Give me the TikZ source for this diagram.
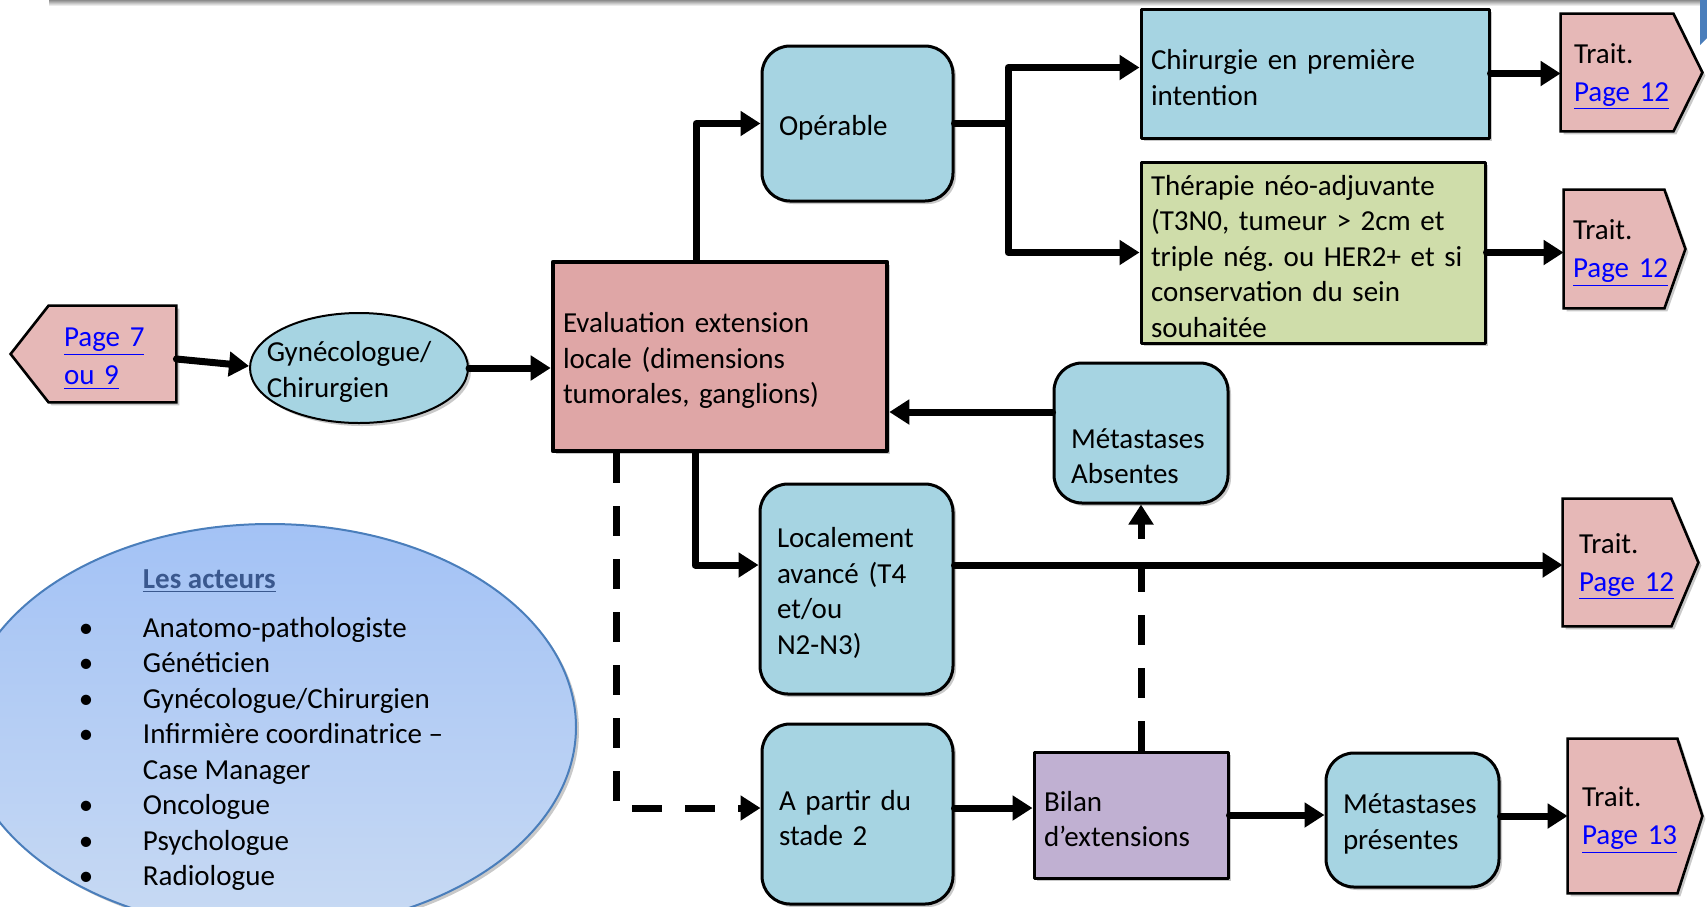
\documentclass[tikz,border=0pt]{standalone}
\usepackage{fontspec}
\setmainfont{Carlito}
\usetikzlibrary{positioning,calc,arrows.meta,shadows,backgrounds,shapes.geometric}

\definecolor{bleuclair}{RGB}{166,212,226}
\definecolor{roseeval}{RGB}{223,166,166}
\definecolor{rosetrait}{RGB}{230,184,183}
\definecolor{vertthera}{RGB}{207,221,170}
\definecolor{violetbilan}{RGB}{192,176,210}
\definecolor{bleuhaut}{RGB}{163,194,245}
\definecolor{bleubas}{RGB}{200,218,243}
\definecolor{bordbleu}{RGB}{74,126,187}
\definecolor{titrebleu}{RGB}{58,88,142}
\definecolor{lienbleu}{RGB}{0,0,255}

\newcommand{\lien}[1]{\textcolor{lienbleu}{\underline{#1}}}
\newcommand{\puce}{\makebox[32pt][l]{\textbullet}}
\frenchspacing

\begin{document}
\begin{tikzpicture}[x=0.5pt,y=-0.5pt,line cap=round,line join=round,
    font=\fontsize{14.5}{17.75}\selectfont,
    ombre/.style={drop shadow={shadow xshift=1.5pt,shadow yshift=-1.5pt,opacity=.3,fill=black!70}},
    carre/.style={draw,line width=1.5pt,align=left,inner xsep=5pt,inner ysep=0pt,ombre,
      execute at begin node=\rule{0pt}{14pt}},
    arrondi/.style={draw,line width=1.5pt,rounded corners=14pt,fill=bleuclair,align=left,inner xsep=8.5pt,inner ysep=0pt,ombre,
      execute at begin node=\rule{0pt}{14pt}},
    pagebox/.style={align=left,inner ysep=0pt,font=\fontsize{14.5}{19}\selectfont,
      execute at begin node=\rule{0pt}{14pt}},
    forme/.style={draw,line width=1.3pt,fill=rosetrait,ombre},
    fleche/.style={line width=3.5pt,-{Triangle[length=10pt,width=12pt]}},
    tirets/.style={line cap=butt,dash pattern=on 15pt off 11.5pt}]

  \useasboundingbox (0,0) rectangle (1707,906);
  \clip (0,0) rectangle (1707,906);

  % bord du cadre au-dessus
  \shade[top color=black!45,bottom color=white] (49,0) rectangle (1700,6);
  \fill[bordbleu] (1700,0) -- (1707,0) -- (1707,38) -- (1700,45) -- cycle;

  % les acteurs
  \node[ellipse,draw=bordbleu,line width=1pt,top color=bleuhaut,bottom color=bleubas,
        minimum width=306pt,minimum height=203pt,inner sep=0pt,ombre] (acteurs) at (270,727) {};
  \node[align=left,inner sep=0pt] (listeact) at ($(acteurs.center)+(-9,3)$) {%
    \hspace*{32pt}\textcolor{titrebleu}{\bfseries\underline{Les acteurs}}\\[6.75pt]
    \puce Anatomo-pathologiste\\
    \puce Généticien\\
    \puce Gynécologue/Chirurgien\\
    \puce Infirmière coordinatrice –\\
    \hspace*{32pt}Case Manager\\
    \puce Oncologue\\
    \puce Psychologue\\
    \puce Radiologue};

  % boites
  \node[pagebox,inner xsep=7.5pt,text width=48.5pt,minimum height=48pt] (p7) at (112.5,354) {\lien{Page~7}\\\lien{ou~9}};
  \node[ellipse,draw,line width=1pt,fill=bleuclair,minimum width=109pt,minimum height=55pt,
        inner xsep=-9pt,inner ysep=0pt,align=left,ombre] (gyn) at (359,368) {\rule{0pt}{14pt}Gynécologue/\hspace*{10pt}\\Chirurgien};
  \node[carre,fill=roseeval,line width=2.3pt,text width=157pt,minimum height=94.5pt] (eval) at (720,356.5)
    {Evaluation extension\\locale (dimensions\\tumorales, ganglions)};
  \node[arrondi,text width=78.5pt,minimum height=77.5pt] (oper) at (857.5,123.5) {Opérable};
  \node[carre,fill=bleuclair,text width=164pt,minimum height=64.5pt] (chir) at (1315,73.5)
    {Chirurgie en première\\intention};
  \node[carre,fill=vertthera,text width=162pt,minimum height=90.5pt] (thera) at (1313,252.5)
    {Thérapie néo-adjuvante\\(T3N0, tumeur > 2cm et\\triple nég. ou HER2+ et si\\conservation du sein\\souhaitée};
  \node[pagebox,inner xsep=6.5pt,text width=43pt,minimum height=58.5pt] (t1) at (1617,72.5) {Trait.\\\lien{Page~12}};
  \node[pagebox,inner xsep=4.5pt,text width=41pt,minimum height=59pt] (t2) at (1614,249) {Trait.\\\lien{Page~12}};
  \node[arrondi,text width=70pt,minimum height=70pt] (metabs) at (1141,433) {\rule{0pt}{33pt}Métastases\\Absentes};
  \node[arrondi,text width=79.5pt,minimum height=105pt] (loc) at (856.5,589) {Localement\\avancé (T4\\et/ou\\N2-N3)};
  \node[pagebox,inner xsep=8pt,text width=38pt,minimum height=63.5pt] (t3) at (1617,562.5) {Trait.\\\lien{Page~12}};
  \node[arrondi,text width=78.5pt,minimum height=90pt] (apartir) at (857.5,814) {A partir du\\stade 2};
  \node[carre,fill=violetbilan,text width=87pt,minimum height=63pt] (bilan) at (1131,815) {Bilan\\d’extensions};
  \node[arrondi,text width=69.5pt,minimum height=67pt] (metpres) at (1412.5,820) {Métastases\\présentes};
  \node[pagebox,inner xsep=7pt,text width=40.5pt,minimum height=77pt] (t4) at (1622.5,816) {Trait.\\\lien{Page~13}};

  % pointes des renvois
  \begin{scope}[on background layer]
    \draw[forme] (p7.north east) -- (p7.north west) -- ($(p7.west)+(-38,0)$) -- (p7.south west) -- (p7.south east) -- cycle;
    \foreach \n/\d in {t1/29,t2/21,t3/27,t4/25}
      \draw[forme] (\n.north west) -- (\n.north east) -- ($(\n.east)+(\d,0)$) -- (\n.south east) -- (\n.south west) -- cycle;
  \end{scope}

  % liaisons
  \coordinate (branche) at (1008,123.5);
  \coordinate (absentree) at ($(metabs.west)+(0,-21)$);
  \coordinate (locsortie) at ([yshift=12pt]loc.east);
  \coordinate (apsortie) at ([yshift=3pt]apartir.east);

  \draw[fleche] ([yshift=-2.5pt]p7.east) -- ([yshift=1pt]gyn.west);
  \draw[fleche] (gyn.east) -- (gyn.east -| eval.west);
  \draw[fleche] ($(eval.north)+(-24,0)$) |- (oper.west);
  \draw[line width=3.5pt] (oper.east) -- (branche);
  \draw[fleche] (branche) |- ([yshift=3pt]chir.west);
  \draw[fleche] (branche) |- (thera.west);
  \draw[fleche] (chir.east) -- (chir.east -| t1.west);
  \draw[fleche] (thera.east) -- (thera.east -| t2.west);
  \draw[fleche] (absentree) -- (absentree -| eval.east);
  \draw[fleche] ($(eval.south)+(-25,0)$) |- (locsortie -| loc.west);
  \draw[fleche,tirets] (bilan.north -| metabs.south) -- (metabs.south);
  \draw[fleche] (locsortie) -- (locsortie -| t3.west);
  \draw[fleche,tirets] ($(eval.south)+(-104,0)$) |- ([yshift=3pt]apartir.west);
  \draw[fleche] (apsortie) -- (apsortie -| bilan.west);
  \draw[fleche] (bilan.east) -- (bilan.east -| metpres.west);
  \draw[fleche] (t4.west -| metpres.east) -- (t4.west);
\end{tikzpicture}
\end{document}
